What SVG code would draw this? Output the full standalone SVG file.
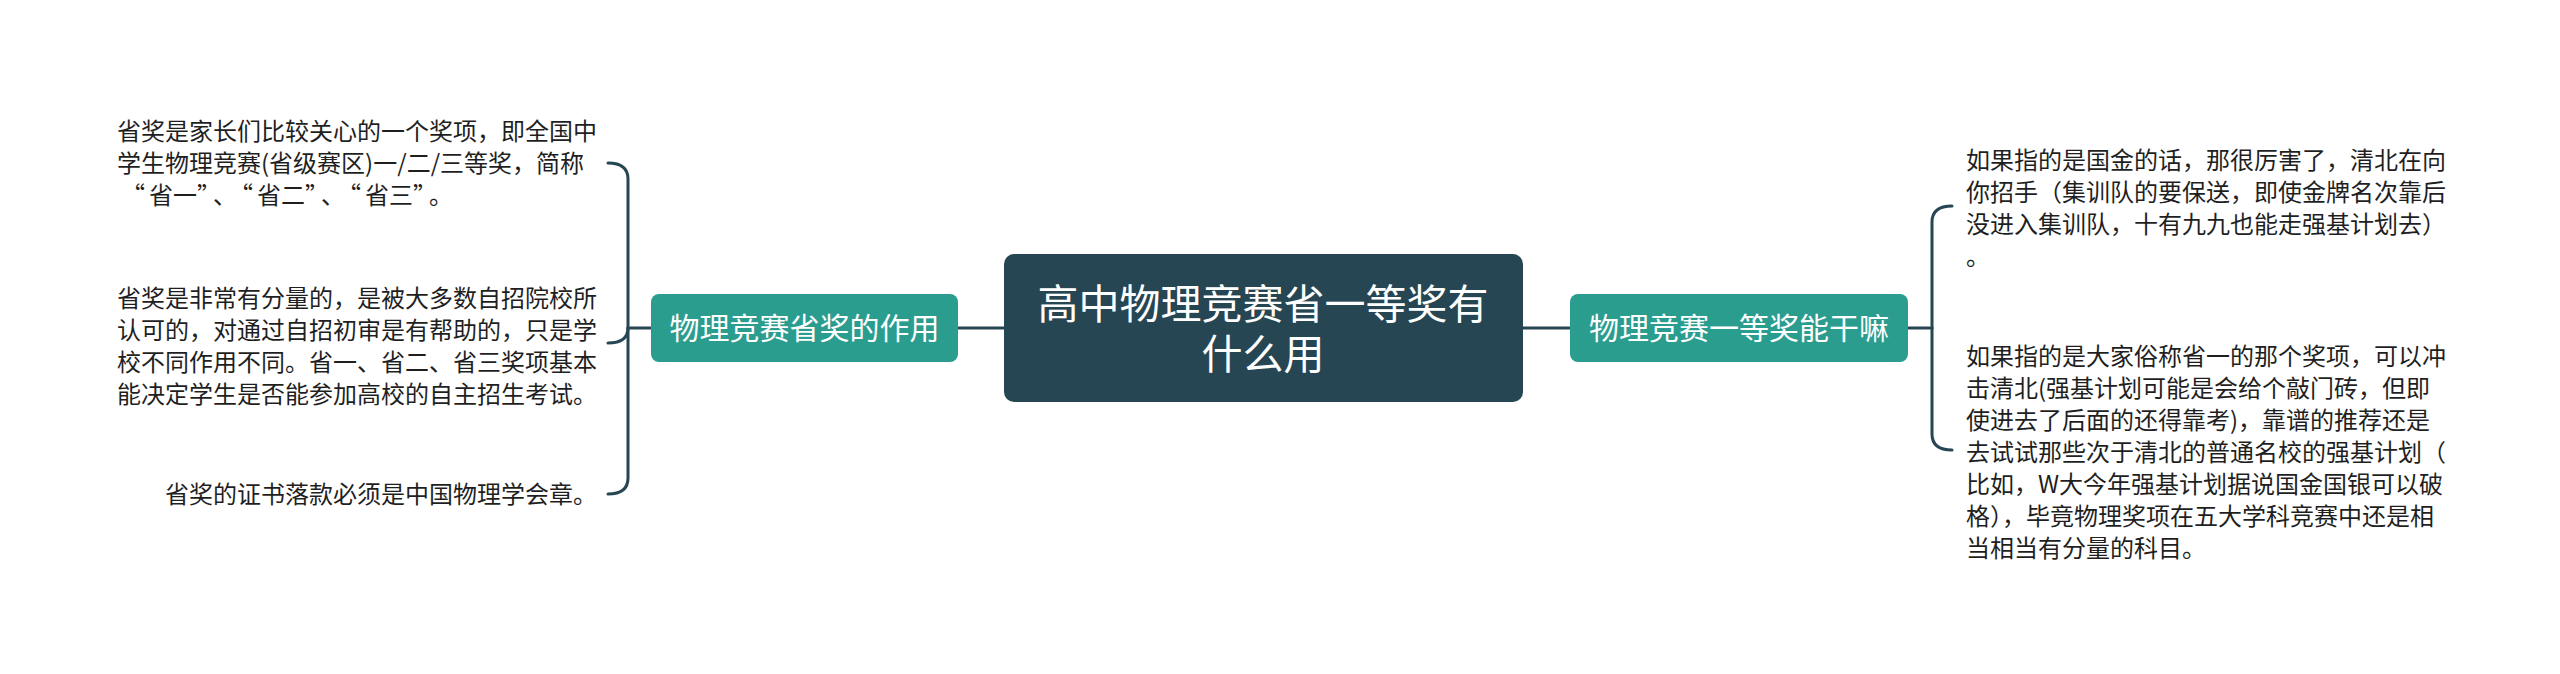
<svg xmlns="http://www.w3.org/2000/svg" width="2560" height="674" viewBox="0 0 2560 674">
<style>
.leaf{font-family:"Noto Sans CJK SC","Noto Sans",sans-serif;font-size:24px;fill:#1f1f1f}
.branch{font-family:"Noto Sans CJK SC","Noto Sans",sans-serif;font-size:30px;fill:#ffffff;text-anchor:middle}
.root{font-family:"Noto Sans CJK SC","Noto Sans",sans-serif;font-size:41px;fill:#ffffff;text-anchor:middle}
.conn{fill:none;stroke:#264653;stroke-width:3;stroke-linecap:round}
</style>
<rect width="2560" height="674" fill="#ffffff"/>
<g id="connectors">
<path class="conn" d="M958 328 H1004"/>
<path class="conn" d="M1523 328 H1570"/>
<path class="conn" d="M651 328 H628"/>
<path class="conn" d="M628 328 V179 Q628 163 608 163"/>
<path class="conn" d="M628 328 Q628 343 608 343"/>
<path class="conn" d="M628 328 V478 Q628 494 608 494"/>
<path class="conn" d="M1908 328 H1932"/>
<path class="conn" d="M1932 328 V222 Q1932 206 1952 206"/>
<path class="conn" d="M1932 328 V434 Q1932 450 1952 450"/>
</g>
<g id="root">
<rect x="1004" y="254" width="519" height="148" rx="10" fill="#264653"/>
<text class="root" x="1263" y="319">高中物理竞赛省一等奖有</text>
<text class="root" x="1263" y="369">什么用</text>
</g>
<g id="branch-left">
<rect x="651" y="294" width="307" height="68" rx="8" fill="#2a9d8f"/>
<text class="branch" x="804.5" y="339">物理竞赛省奖的作用</text>
</g>
<g id="branch-right">
<rect x="1570" y="294" width="338" height="68" rx="8" fill="#2a9d8f"/>
<text class="branch" x="1739" y="339">物理竞赛一等奖能干嘛</text>
</g>
<g id="leaf-l1">
<text class="leaf" x="117" y="140">省奖是家长们比较关心的一个奖项，即全国中</text>
<text class="leaf" x="117" y="172">学生物理竞赛(省级赛区)一/二/三等奖，简称</text>
<text class="leaf" x="117" y="204"><tspan dx="4">“</tspan><tspan dx="4">省一”</tspan><tspan dx="4">、</tspan><tspan dx="4">“</tspan><tspan dx="4">省二”</tspan><tspan dx="4">、</tspan><tspan dx="4">“</tspan><tspan dx="4">省三”</tspan><tspan dx="4">。</tspan></text>
</g>
<g id="leaf-l2">
<text class="leaf" x="117" y="307">省奖是非常有分量的，是被大多数自招院校所</text>
<text class="leaf" x="117" y="339">认可的，对通过自招初审是有帮助的，只是学</text>
<text class="leaf" x="117" y="371">校不同作用不同。省一、省二、省三奖项基本</text>
<text class="leaf" x="117" y="403">能决定学生是否能参加高校的自主招生考试。</text>
</g>
<g id="leaf-l3">
<text class="leaf" x="165" y="503">省奖的证书落款必须是中国物理学会章。</text>
</g>
<g id="leaf-r1">
<text class="leaf" x="1966" y="169">如果指的是国金的话，那很厉害了，清北在向</text>
<text class="leaf" x="1966" y="201">你招手（集训队的要保送，即使金牌名次靠后</text>
<text class="leaf" x="1966" y="233">没进入集训队，十有九九也能走强基计划去）</text>
<text class="leaf" x="1966" y="265">。</text>
</g>
<g id="leaf-r2">
<text class="leaf" x="1966" y="365">如果指的是大家俗称省一的那个奖项，可以冲</text>
<text class="leaf" x="1966" y="397">击清北(强基计划可能是会给个敲门砖，但即</text>
<text class="leaf" x="1966" y="429">使进去了后面的还得靠考)，靠谱的推荐还是</text>
<text class="leaf" x="1966" y="461">去试试那些次于清北的普通名校的强基计划（</text>
<text class="leaf" x="1966" y="493">比如，W大今年强基计划据说国金国银可以破</text>
<text class="leaf" x="1966" y="525">格），毕竟物理奖项在五大学科竞赛中还是相</text>
<text class="leaf" x="1966" y="557">当相当有分量的科目。</text>
</g>
</svg>
